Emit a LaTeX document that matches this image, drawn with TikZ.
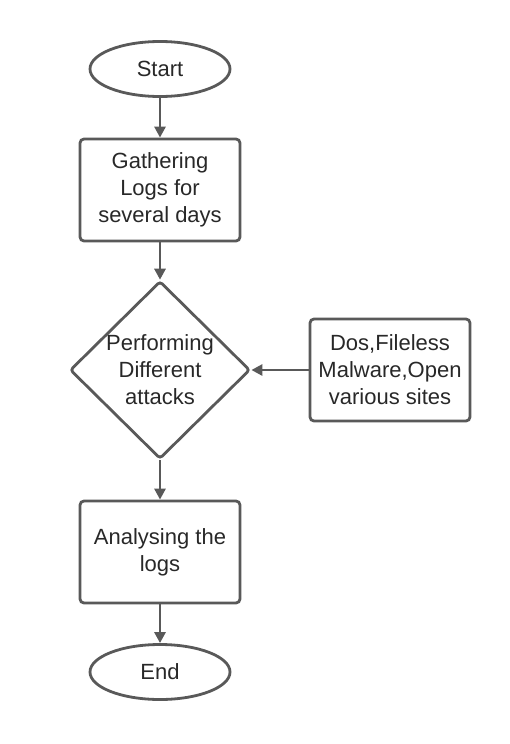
\documentclass[tikz,border=0pt]{standalone}
\usepackage{fontspec}
\setmainfont{Liberation Sans}
\usepackage{tikz}
\usetikzlibrary{positioning,arrows.meta,shapes.geometric}
\definecolor{cline}{RGB}{89,89,89}
\definecolor{ctext}{RGB}{40,40,40}

\begin{document}
\begin{tikzpicture}[x=1pt, y=-1pt,
  term/.style={ellipse, draw=cline, line width=2.8pt, minimum width=140pt,
               minimum height=55pt, inner sep=0pt, text=ctext,
               font=\fontsize{22pt}{27pt}\selectfont},
  proc/.style={rounded corners=4pt, draw=cline, line width=2.8pt, align=center,
               minimum width=160pt, minimum height=102pt, inner sep=0pt, text=ctext,
               font=\fontsize{22pt}{27pt}\selectfont},
  dec/.style={diamond, rounded corners=3pt, draw=cline, line width=2.8pt, align=center,
              minimum width=180pt, minimum height=176pt, inner sep=0pt, text=ctext,
              font=\fontsize{22pt}{27pt}\selectfont},
  ar/.style={-{Triangle[length=11pt, width=11pt]}, draw=cline, line width=2.8pt}]
\useasboundingbox (0,0) rectangle (510,744);
\node[term] (start) at (160,69)  {Start};
\node[proc] (logs)  at (160,190) {Gathering\\Logs for\\several days};
\node[dec]  (att)   at (160,370) {Performing\\Different\\attacks};
\node[proc] (kinds) at (390,370) {Dos,Fileless\\Malware,Open\\various sites};
\node[proc] (anal)  at (160,552) {Analysing the\\logs};
\node[term] (stop)  at (160,672) {End};
\draw[ar] (start) -- (logs);
\draw[ar] (logs) -- (att);
\draw[ar] (kinds) -- (att);
\draw[ar] (att) -- (anal);
\draw[ar] (anal) -- (stop);
\end{tikzpicture}
\end{document}
